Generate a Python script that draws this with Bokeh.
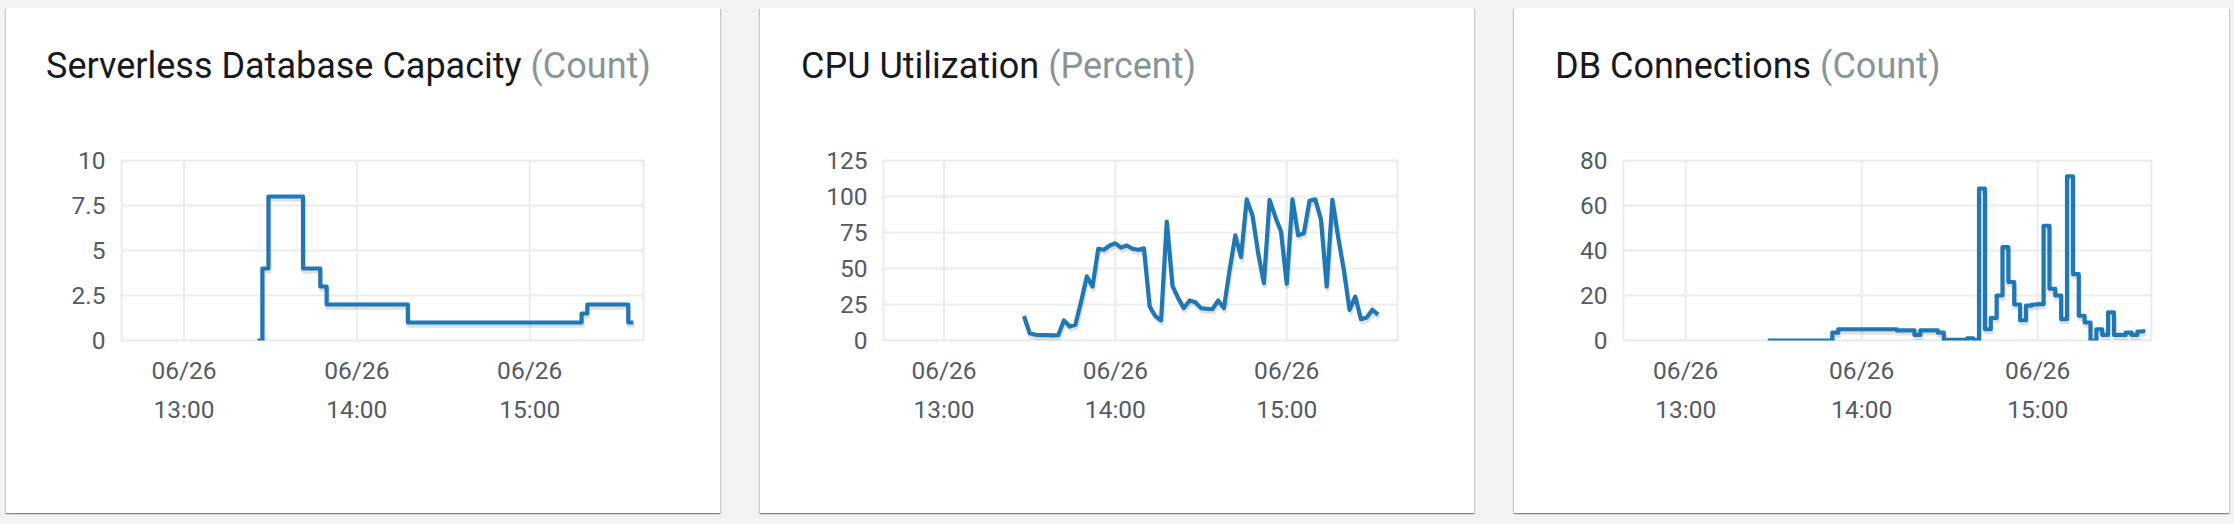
from bokeh.plotting import figure
from bokeh.layouts import row, column
from bokeh.models import FixedTicker, LinearAxis, Range1d, Div
from bokeh.embed import file_html
from bokeh.resources import INLINE

# ---- data (x values are minutes since midnight on 06/26) ----
x_ticks = [780, 840, 900]
date_labels = ["06/26", "06/26", "06/26"]
time_labels = ["13:00", "14:00", "15:00"]

capacity_t = [805.5, 807.2, 809.3, 821.3, 827.3, 829.5, 857.7, 918, 920, 934.2, 936]
capacity_v = [0, 4, 8, 4, 3, 2, 1, 1.5, 2, 1, 1]
capacity_ticks = [0, 2.5, 5, 7.5, 10]
capacity_labels = ["0", "2.5", "5", "7.5", "10"]

cpu_t = [808 + 2 * i for i in range(63)]
cpu_v = [17, 5, 4, 3.7, 3.7, 3.5, 3.7, 14, 9.7, 11, 27, 44.5, 37.5, 63.7, 63, 66, 67.5, 64.5, 66, 63.7, 63,
         64, 23.6, 17, 14, 82.6, 38, 29.4, 22.5, 27.8, 26.6, 22.5, 22, 21.8, 27.8, 22.5, 49, 73, 58, 98, 87,
         60.6, 39.8, 97.7, 86, 75.7, 39.4, 98, 73, 74.5, 97, 98, 84, 37.5, 97.7, 72, 49, 21.3, 30.5, 14.8,
         16, 21.3, 18]
cpu_ticks = [0, 25, 50, 75, 100, 125]
cpu_labels = ["0", "25", "50", "75", "100", "125"]

conn_t = [808, 830, 832, 852, 858, 860, 866, 868, 876, 878, 880, 882, 884, 886, 888, 890, 892, 894, 896, 898,
          900, 902, 904, 906, 908, 910, 912, 914, 916, 918, 920, 922, 924, 926, 930, 932, 934, 936]
conn_v = [0, 3.5, 5, 4.5, 2.5, 4.5, 3.5, 0.3, 1, 0.3, 67.5, 5, 10, 20, 41.5, 26, 16, 9, 15.5, 16,
          16.2, 51, 23, 20, 9.5, 73, 29.5, 11, 8, 0, 5, 2.5, 12.5, 2.5, 3.5, 2.5, 4, 5]
conn_ticks = [0, 20, 40, 60, 80]
conn_labels = ["0", "20", "40", "60", "80"]

titles = ["Serverless Database Capacity", "CPU Utilization", "DB Connections"]
units = ["(Count)", "(Percent)", "(Count)"]

# ---- style ----
GRID = "#eaeded"
TICK_COLOR = "#545b64"
LINE = "#1f77b4"
FONT = "Roboto"
TICK_SIZE = "24.5px"
SHADOW = ("0 1px 1px 0 rgba(0,28,36,.3), 1px 1px 1px 0 rgba(0,28,36,.15), "
          "-1px 1px 1px 0 rgba(0,28,36,.15)")
HEAD = 110
TOP, BOTTOM = 42, 173


def panel(width, left, right, x_start, x_end, ymax, yticks, ylabels, t, v, step, title, unit, title_x):
    head = Div(text=f'<span style="color:#16191f">{title}</span> '
                    f'<span style="color:#879596">{unit}</span>',
               width=width, height=HEAD, margin=0,
               styles={"font-family": FONT, "font-size": "36px", "line-height": "40px", "white-space": "nowrap",
                       "padding-left": f"{title_x}px", "padding-top": "38px", "box-sizing": "border-box",
                       "background": "white"})

    p = figure(width=width, height=505 - HEAD, x_range=Range1d(x_start, x_end), y_range=Range1d(0, ymax),
               output_backend="svg", toolbar_location=None, x_axis_location=None, y_axis_location=None,
               min_border_left=left, min_border_right=right, min_border_top=TOP, min_border_bottom=BOTTOM,
               background_fill_color="white", border_fill_color="white",
               outline_line_color=GRID, outline_line_width=2, margin=0)

    y_axis = LinearAxis(ticker=FixedTicker(ticks=yticks),
                        major_label_overrides=dict(zip(yticks, ylabels)))
    date_axis = LinearAxis(ticker=FixedTicker(ticks=x_ticks),
                           major_label_overrides=dict(zip(x_ticks, date_labels)))
    time_axis = LinearAxis(ticker=FixedTicker(ticks=x_ticks),
                           major_label_overrides=dict(zip(x_ticks, time_labels)))
    for ax in (y_axis, date_axis, time_axis):
        ax.axis_line_color = None
        ax.major_tick_line_color = None
        ax.minor_tick_line_color = None
        ax.major_label_text_font = FONT
        ax.major_label_text_font_size = TICK_SIZE
        ax.major_label_text_color = TICK_COLOR
    y_axis.major_label_standoff = 10
    date_axis.major_label_standoff = 9
    time_axis.major_label_standoff = 1
    p.add_layout(y_axis, "left")
    p.add_layout(date_axis, "below")
    p.add_layout(time_axis, "below")

    p.xgrid.visible = False
    p.ygrid.visible = False
    p.grid.visible = False
    p.segment(x0=x_ticks, x1=x_ticks, y0=0, y1=ymax, line_color=GRID, line_width=2)
    p.segment(x0=x_start, x1=x_end, y0=yticks, y1=yticks, line_color=GRID, line_width=2)

    # soft drop shadow: same data through ranges nudged by a couple of pixels
    dy = ymax * 3 / 180
    dx = (x_end - x_start) * 1 / (width - left - right)
    p.extra_y_ranges = {"shadow": Range1d(dy, ymax + dy)}
    p.extra_x_ranges = {"shadow": Range1d(x_start - dx, x_end - dx)}
    common = dict(line_join="round")
    if step:
        p.step(t, v, mode="after", line_color="black", line_alpha=0.12, line_width=4.4,
               x_range_name="shadow", y_range_name="shadow", **common)
        p.step(t, v, mode="after", line_color=LINE, line_width=4.2, **common)
    else:
        p.line(t, v, line_color="black", line_alpha=0.12, line_width=4.4,
               x_range_name="shadow", y_range_name="shadow", **common)
        p.line(t, v, line_color=LINE, line_width=4.2, **common)

    return column(head, p, spacing=0, margin=0, styles={"box-shadow": SHADOW, "background": "white"})


p1 = panel(714, 115, 77, 758.3, 939.5, 10, capacity_ticks, capacity_labels, capacity_t, capacity_v, True,
           titles[0], units[0], 40)
p2 = panel(714, 123, 77, 758.8, 938.8, 125, cpu_ticks, cpu_labels, cpu_t, cpu_v, False,
           titles[1], units[1], 41)
p3 = panel(715, 109, 78, 758.8, 938.8, 80, conn_ticks, conn_labels, conn_t, conn_v, True,
           titles[2], units[2], 41)

layout = row(p1, p2, p3, spacing=40, margin=(8, 0, 0, 6))

html = file_html(layout, INLINE)
html = html.replace("</head>", "<style>html,body{margin:0;background:#f2f3f3}</style></head>")
open("out.html", "w").write(html)
